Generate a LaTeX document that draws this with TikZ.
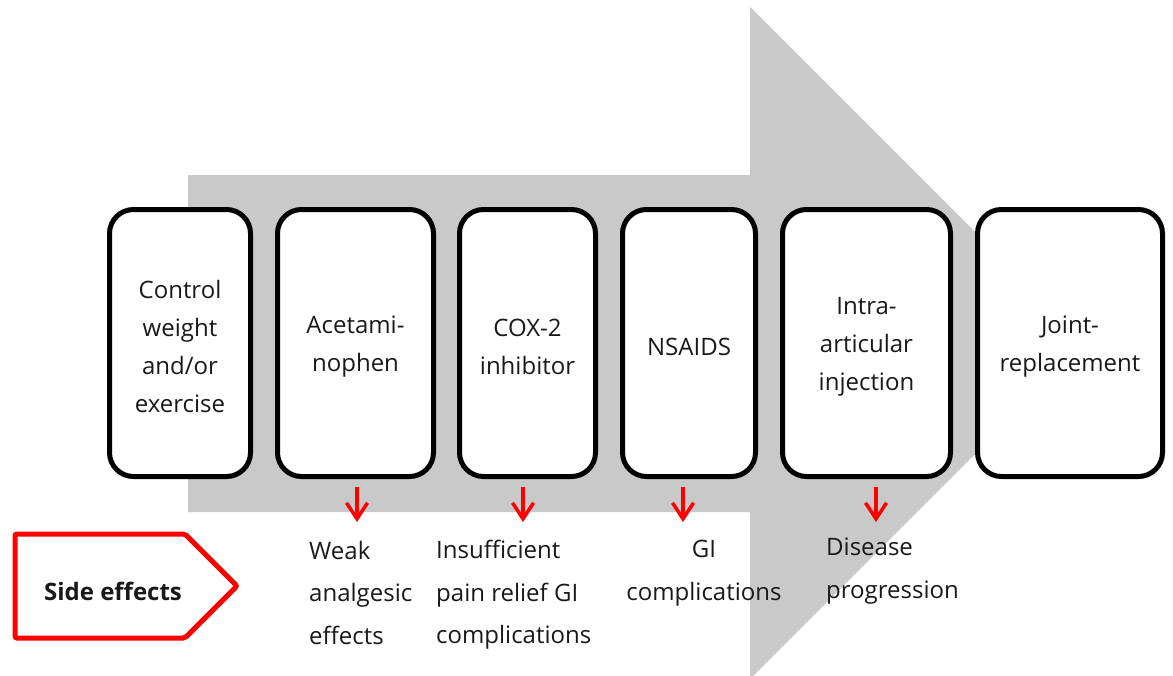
\documentclass[tikz,border=0pt]{standalone}
\usepackage{fontspec}
\setmainfont{Open Sans}
\usetikzlibrary{arrows.meta}
\definecolor{arrowgray}{RGB}{201,201,201}
\definecolor{sered}{RGB}{255,0,0}
\definecolor{txt}{RGB}{25,25,25}
\tikzset{
  stepbox/.style={draw=black, fill=white, line width=5pt, rounded corners=24pt,
    minimum height=267pt, inner sep=0pt},
  boxtext/.style={inner sep=0pt, align=center, text=txt,
    font=\fontsize{24}{38}\selectfont},
  effect/.style={inner sep=0pt, text=txt, font=\fontsize{24}{42.5}\selectfont},
  redarrow/.style={draw=sered, line width=3.5pt,
    -{Straight Barb[length=16pt,width=21pt]}},
}
\begin{document}
\begin{tikzpicture}[x=1pt,y=-1pt]
\useasboundingbox (0,0) rectangle (1173,675);
\clip (0,0) rectangle (1173,675);
% big gray arrow
\fill[arrowgray] (188,175) -- (750,175) -- (750,7) -- (1086,343) -- (750,679)
  -- (750,512) -- (188,512) -- cycle;
% step boxes
\node[stepbox, minimum width=141pt] (b1) at (180,343) {};
\node[stepbox, minimum width=156pt] (b2) at (355.5,343) {};
\node[stepbox, minimum width=136pt] (b3) at (527.5,343) {};
\node[stepbox, minimum width=133pt] (b4) at (689,343) {};
\node[stepbox, minimum width=168pt] (b5) at (866.5,343) {};
\node[stepbox, minimum width=185pt] (b6) at (1070,343) {};
\node[boxtext] (t1) at ([yshift=-3pt]b1.center) {Control\\weight\\and/or\\exercise};
\node[boxtext] (t2) at ([yshift=-4pt]b2.center) {Acetami-\\nophen};
\node[boxtext] (t3) at ([yshift=-4pt]b3.center) {COX-2\\inhibitor};
\node[boxtext] (t4) at ([yshift=-4pt]b4.center) {NSAIDS};
\node[boxtext] (t5) at ([yshift=-4pt]b5.center) {Intra-\\articular\\injection};
\node[boxtext] (t6) at ([yshift=-4pt]b6.center) {Joint-\\replacement};
% red arrows
\coordinate (a2s) at (357,487); \coordinate (a2e) at (357,522);
\coordinate (a3s) at (523,487); \coordinate (a3e) at (523,522);
\coordinate (a4s) at (683,487); \coordinate (a4e) at (683,522);
\coordinate (a5s) at (876,487); \coordinate (a5e) at (876,522);
\draw[redarrow] (a2s) -- (a2e);
\draw[redarrow] (a3s) -- (a3e);
\draw[redarrow] (a4s) -- (a4e);
\draw[redarrow] (a5s) -- (a5e);
% side effect texts
\node[effect, anchor=north west, align=left] (e2) at (309,541) {Weak\\analgesic\\effects};
\node[effect, anchor=north west, align=left] (e3) at (436,540) {Insufficient\\pain relief GI\\complications};
\node[effect, anchor=north, align=center] (e4) at (704,540) {GI\\complications};
\node[effect, anchor=north west, align=left] (e5) at (826,538) {Disease\\progression};
% side effects label
\draw[sered, line width=5pt, rounded corners=2pt, fill=white]
  (15,534) -- (185,534) -- (237,586) -- (185,638) -- (15,638) -- cycle;
\node[anchor=base, inner sep=0pt, font=\fontsize{24}{28}\selectfont\bfseries, text=txt] (se) at (113,600) {Side effects};
\end{tikzpicture}
\end{document}
